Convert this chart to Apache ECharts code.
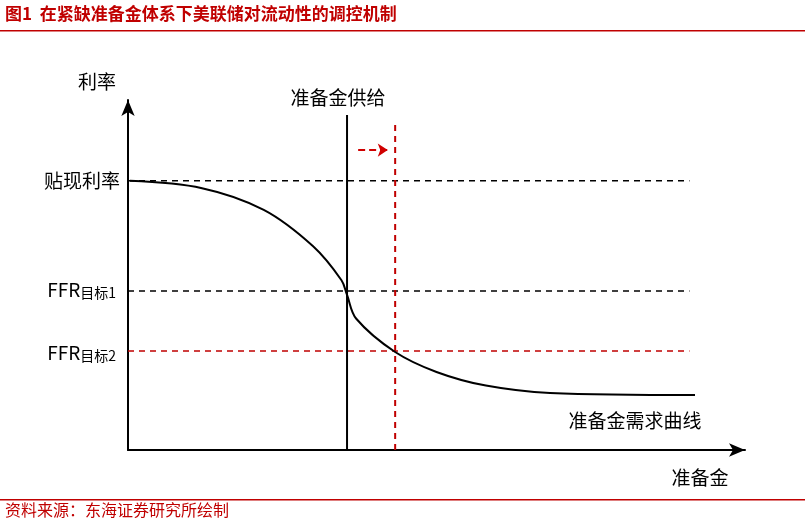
<!DOCTYPE html>
<html><head><meta charset="utf-8">
<script src="https://cdn.jsdelivr.net/npm/echarts@6/dist/echarts.min.js"></script>
<style>html,body{margin:0;padding:0;background:#fff}#c{width:805px;height:527px}</style>
</head><body><div id="c"></div>
<script>
// schematic values, in data units (0..100 on both axes)
const demandCurve = [[0.3,76.9],[12,74.8],[22,68.6],[30,58.2],[34.6,48.5],[35.5,44.3],[37,37.5],[43.3,28],[50,22.3],[58,18.4],[68.4,16.3],[91.9,15.7]];
const discountRate = 76.9;
const ffr1 = 45.4;
const ffr2 = 28.3;
const supplyX = 35.5;
const supplyNewX = 43.3;
const lineEndX = 91;
const arrowFrom = [37.3, 85.7];
const arrowTo = [42.1, 85.7];

const chart = echarts.init(document.getElementById('c'));
const font = '"Noto Sans CJK SC", sans-serif';
const hline = (y, color) => ({type:'line', data:[[0,y],[lineEndX,y]], symbol:'none', lineStyle:{color, type:[6,5], width:1.5}, silent:true, z:2});
chart.setOption({
  animation:false,
  grid:{left:128, right:60, top:100, bottom:77},
  xAxis:{type:'value', min:0, max:100, splitLine:{show:false}, axisTick:{show:false}, axisLabel:{show:false},
    axisLine:{lineStyle:{color:'#000', width:2}, symbol:['none','arrow'], symbolSize:[10,16]}},
  yAxis:{type:'value', min:0, max:100, splitLine:{show:false}, axisTick:{show:false}, axisLabel:{show:false},
    axisLine:{lineStyle:{color:'#000', width:2}, symbol:['none','arrow'], symbolSize:[10,16]}},
  series:[
    hline(discountRate,'#000'),
    hline(ffr1,'#000'),
    hline(ffr2,'#c00000'),
    {type:'line', data:[[supplyX,0],[supplyX,95.7]], symbol:'none', lineStyle:{color:'#000', width:2}, z:3},
    {type:'line', data:[[supplyNewX,0],[supplyNewX,94.3]], symbol:'none', lineStyle:{color:'#c00000', width:2, type:[6,5]}, z:3},
    {type:'line', data:demandCurve, smooth:0.35, symbol:'none', lineStyle:{color:'#000', width:2}, z:4},
    {type:'lines', coordinateSystem:'cartesian2d', data:[{coords:[arrowFrom, arrowTo]}],
      lineStyle:{color:'#d00000', width:1.8, type:[7,4], opacity:1}, symbol:['none','arrow'], symbolSize:10, z:5}
  ],
  graphic:[
    {type:'text', left:5, top:5, style:{text:'图1  在紧缺准备金体系下美联储对流动性的调控机制', fill:'#c00000', font:'bold 17px '+font}},
    {type:'rect', shape:{x:0, y:30, width:805, height:1.5}, style:{fill:'#c00000'}},
    {type:'rect', shape:{x:0, y:499, width:805, height:1.5}, style:{fill:'#c00000'}},
    {type:'text', left:5, top:502, style:{text:'资料来源：东海证券研究所绘制', fill:'#c00000', font:'16px '+font}},
    {type:'text', x:78, y:72, style:{text:'利率', fill:'#000', font:'19px '+font}},
    {type:'text', x:120, y:181, style:{text:'贴现利率', fill:'#000', font:'19px '+font, align:'right', verticalAlign:'middle'}},
    {type:'text', x:116, y:290, style:{text:'{a|FFR}{b|目标1}', align:'right', verticalAlign:'middle', rich:{a:{font:'19px '+font, fill:'#000'}, b:{font:'14px '+font, fill:'#000', padding:[5,0,0,0]}}}},
    {type:'text', x:116, y:353, style:{text:'{a|FFR}{b|目标2}', align:'right', verticalAlign:'middle', rich:{a:{font:'19px '+font, fill:'#000'}, b:{font:'14px '+font, fill:'#000', padding:[5,0,0,0]}}}},
    {type:'text', x:338, y:98, style:{text:'准备金供给', fill:'#000', font:'19px '+font, align:'center', verticalAlign:'middle'}},
    {type:'text', x:635, y:421, style:{text:'准备金需求曲线', fill:'#000', font:'19px '+font, align:'center', verticalAlign:'middle'}},
    {type:'text', x:700, y:478, style:{text:'准备金', fill:'#000', font:'19px '+font, align:'center', verticalAlign:'middle'}}
  ]
});
</script></body></html>
